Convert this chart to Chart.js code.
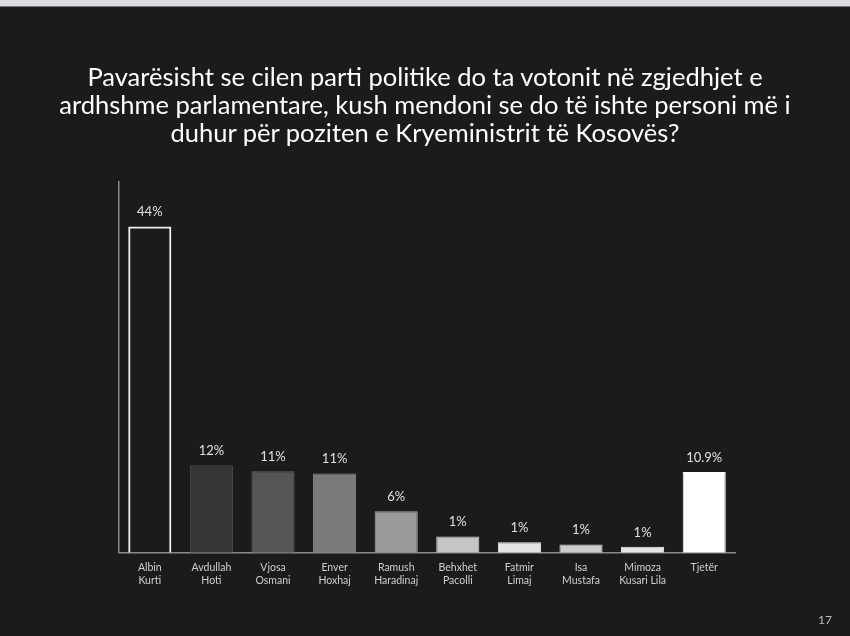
<!DOCTYPE html>
<html>
<head>
<meta charset="utf-8">
<script src="https://cdn.jsdelivr.net/npm/chart.js@4.4.1/dist/chart.umd.min.js"></script>
<style>
  html, body { margin: 0; padding: 0; background: #1b1b1b; }
  #wrap { position: relative; width: 850px; height: 636px; overflow: hidden; }
  #strip { position: absolute; left: 0; top: 0; width: 850px; height: 6px; background: #dcdce0; border-bottom: 1px solid #777; }
  #chartBox { position: absolute; left: 0; top: 6px; width: 850px; height: 630px; }
  #title { position: absolute; left: 0; top: 62px; width: 850px; text-align: center; color: #fff;
           font: 25.5px/28px Lato, sans-serif; white-space: nowrap; }
  #page { position: absolute; right: 18px; top: 612px; color: #bbb; font: 12px Lato, sans-serif; }
</style>
</head>
<body>
<div id="wrap">
  <div id="strip"></div>
  <div id="chartBox"><canvas id="c" width="850" height="630"></canvas></div>
  <div id="title"></div>
  <div id="page">17</div>
</div>
<script>
const titleLines = [
  "Pavarësisht se cilen parti politike do ta votonit në zgjedhjet e",
  "ardhshme parlamentare, kush mendoni se do të ishte personi më i",
  "duhur për poziten e Kryeministrit të Kosovës?"
];

const candidates = [
  ["Albin", "Kurti"],
  ["Avdullah", "Hoti"],
  ["Vjosa", "Osmani"],
  ["Enver", "Hoxhaj"],
  ["Ramush", "Haradinaj"],
  ["Behxhet", "Pacolli"],
  ["Fatmir", "Limaj"],
  ["Isa", "Mustafa"],
  ["Mimoza", "Kusari Lila"],
  ["Tjetër"]
];

// bar heights as drawn in the picture (percent)
const shares = [44, 11.8, 11, 10.7, 5.6, 2.2, 1.4, 1.1, 0.8, 10.9];
// labels printed above the bars
const shareLabels = ["44%", "12%", "11%", "11%", "6%", "1%", "1%", "1%", "1%", "10.9%"];

const barFills = ["rgba(0,0,0,0)", "#363636", "#555555", "#7a7a7a", "#9a9a9a", "#c6c6c6", "#e4e4e4", "#cdcdcd", "#e6e6e6", "#ffffff"];
const barLines = ["#eeeeee", "#4a4a4a", "#666666", "#8a8a8a", "#aaaaaa", "#d6d6d6", "#f0f0f0", "#dddddd", "#f2f2f2", "#ffffff"];

const titleBox = document.getElementById("title");
titleLines.forEach(line => {
  const div = document.createElement("div");
  div.textContent = line;
  titleBox.appendChild(div);
});

// draw the percent text above each bar
const valueLabels = {
  id: "valueLabels",
  afterDatasetsDraw(chart) {
    const ctx = chart.ctx;
    const meta = chart.getDatasetMeta(0);
    ctx.save();
    ctx.fillStyle = "#e0e0e0";
    ctx.font = "13px Lato, sans-serif";
    ctx.textAlign = "center";
    ctx.textBaseline = "bottom";
    meta.data.forEach((bar, i) => {
      ctx.fillText(shareLabels[i], bar.x, bar.y - 8);
    });
    ctx.restore();
  }
};

new Chart(document.getElementById("c").getContext("2d"), {
  type: "bar",
  data: {
    labels: candidates,
    datasets: [{
      data: shares,
      backgroundColor: barFills,
      borderColor: barLines,
      borderWidth: [2, 1, 1, 1, 1, 1, 1, 1, 1, 1],
      barPercentage: 0.7,
      categoryPercentage: 1
    }]
  },
  options: {
    responsive: false,
    animation: false,
    layout: { padding: { left: 111, right: 115, top: 176, bottom: 49 } },
    plugins: {
      legend: { display: false },
      tooltip: { enabled: false }
    },
    scales: {
      x: {
        grid: { display: false },
        border: { color: "#8a8a8a", width: 1.5 },
        ticks: { color: "#cfcfcf", font: { family: "Lato", size: 10.5, lineHeight: 1.25 }, padding: 0, maxRotation: 0 }
      },
      y: {
        min: 0,
        max: 50,
        grid: { display: false },
        border: { color: "#8a8a8a", width: 1.5 },
        ticks: { display: false }
      }
    }
  },
  plugins: [valueLabels]
});
</script>
</body>
</html>
